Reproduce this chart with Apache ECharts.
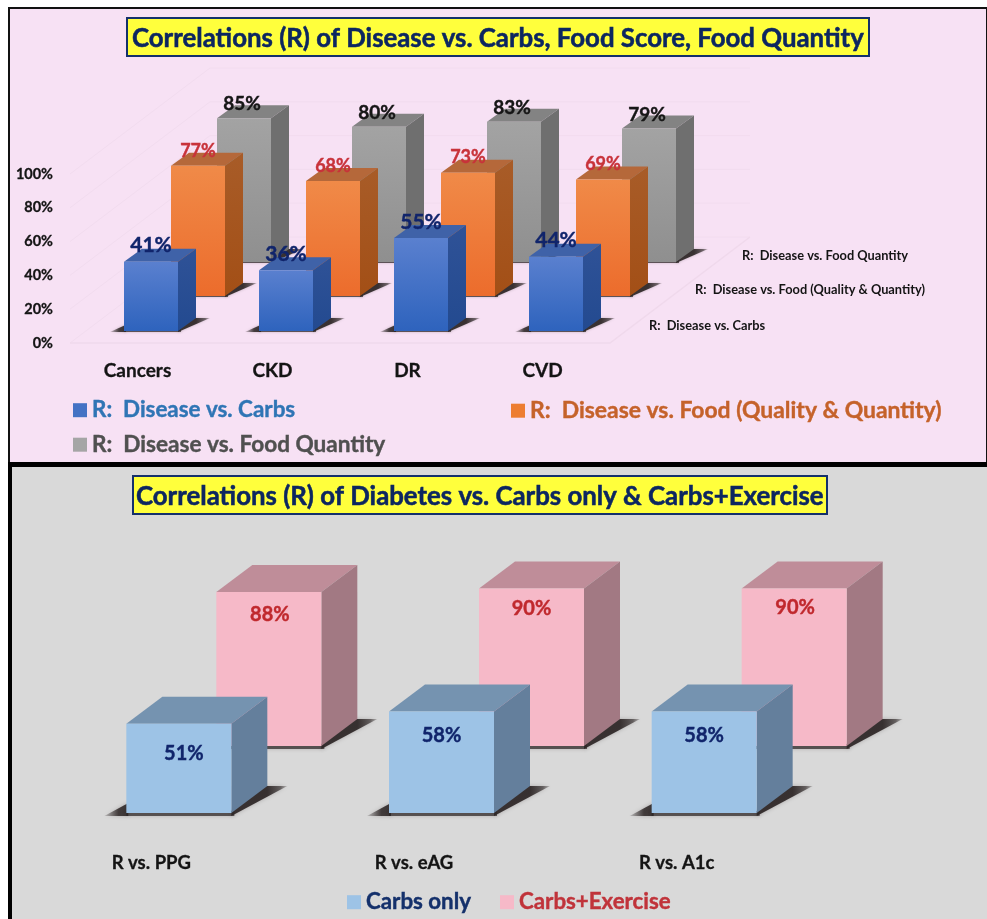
<!DOCTYPE html>
<html>
<head>
<meta charset="utf-8">
<style>html,body{margin:0;padding:0;background:#fff}#chart{width:987px;height:919px}</style>
<script src="https://cdn.jsdelivr.net/npm/echarts@6/dist/echarts.min.js"></script>
</head>
<body>
<div id="chart"></div>
<script>
// Upper panel: disease correlations
const diseaseCategories = ['Cancers', 'CKD', 'DR', 'CVD'];
const carbsR = [41, 36, 55, 44];
const foodQualityR = [77, 68, 73, 69];
const foodQuantityR = [85, 80, 83, 79];
const percentTicks = [0, 20, 40, 60, 80, 100];

// Lower panel: diabetes correlations
const diabetesCategories = ['R vs. PPG', 'R vs. eAG', 'R vs. A1c'];
const carbsOnlyR = [51, 58, 58];
const carbsExerciseR = [88, 90, 90];

const FONT = 'Lato, "Open Sans", sans-serif';
const NAVY = '#0c2660';
const SHADE = a => 'rgba(45,38,38,' + a + ')';

const vGrad = (a, b) => ({ type: 'linear', x: 0, y: 0, x2: 0, y2: 1, colorStops: [{ offset: 0, color: a }, { offset: 1, color: b }] });
// Horizontal fade in canvas pixels, used for the ends of the floor shadow.
const fade = (x, x2, from, to) => ({
  type: 'linear', global: true, x, y: 0, x2, y2: 0,
  colorStops: [{ offset: 0, color: SHADE(from) }, { offset: 0.65, color: SHADE((from + to * 2) / 3 + 0.2) }, { offset: 1, color: SHADE(to) }]
});

// Draws one extruded bar: floor shadow, top, side and front faces, then its value label.
function barRenderer(cfg) {
  return function (params, api) {
    const i = api.value(0), v = api.value(1);
    const top = api.coord([i, v]), base = api.coord([i, 0]);
    const x0 = top[0] + cfg.dx - cfg.width / 2, x1 = x0 + cfg.width;
    const yT = top[1] - cfg.lift, yB = base[1] - cfg.lift;
    const dx = cfg.depthX, dy = cfg.depthY;
    const soft = { shadowBlur: cfg.shadowBlur, shadowColor: SHADE(0.3) };
    const poly = (points, fill, extra) => ({
      type: 'polygon', shape: { points }, silent: true,
      style: Object.assign({ fill }, extra || {})
    });
    const nudge = cfg.labelNudge ? cfg.labelNudge[i] : cfg.labelDefault;
    const yS = yB + cfg.shadowDrop;
    return {
      type: 'group',
      children: [
        // left wedge, strip under the front edge, right wing
        poly([[x0 - cfg.shadowL, yS], [x0 + 2, yS], [x0 + 2, yB - cfg.shadowL * 0.45]],
          fade(x0 - cfg.shadowL, x0, 0.15, 0.9), soft),
        poly([[x0, yS], [x1 + 3, yS], [x1 + 3, yB - 2], [x0, yB - 2]], SHADE(0.72), soft),
        poly([[x1, yS], [x1 + dx + cfg.shadowR, yB - dy], [x1 + dx - 4, yB - dy], [x1, yB - 2]],
          fade(x1 + dx, x1 + dx + cfg.shadowR, 0.92, 0.2), soft),
        poly([[x0, yT], [x0 + dx, yT - dy], [x1 + dx, yT - dy], [x1, yT]], cfg.topFill),
        poly([[x1, yT], [x1 + dx, yT - dy], [x1 + dx, yB - dy], [x1, yB]], cfg.sideFill),
        poly([[x0, yT], [x1, yT], [x1, yB], [x0, yB]], cfg.frontFill),
        {
          type: 'text', silent: true, z2: 10,
          style: {
            x: (x0 + x1) / 2 + nudge[0], y: yT + nudge[1],
            text: v + '%', align: 'center', verticalAlign: 'middle',
            font: 'bold ' + cfg.labelSize + 'px ' + FONT, fill: cfg.labelColor,
            stroke: cfg.labelColor, lineWidth: 0.4
          }
        }
      ]
    };
  };
}

// Floor and back-wall rules of the upper plot.
function wallRenderer(params, api) {
  const tick = api.value(0);
  const p = api.coord([0, tick]);
  const right = api.coord([3, tick])[0] + 67.5;
  const backX = 140, backY = 106;
  const left = p[0] - 67.5;
  const pts = [[left, p[1]], [left + backX, p[1] - backY], [right + backX, p[1] - backY]];
  const children = [{
    type: 'polyline', shape: { points: pts }, silent: true,
    style: { fill: null, stroke: '#f2dcef', lineWidth: 1 }
  }];
  if (tick === 0) {
    children.push({
      type: 'polyline', shape: { points: [[left, p[1]], [right, p[1]], [right + backX, p[1] - backY]] }, silent: true,
      style: { fill: null, stroke: '#f0d9ec', lineWidth: 1.5 }
    });
  }
  return { type: 'group', children };
}

const upperBase = { width: 54, depthX: 18, depthY: 13, shadowL: 14, shadowR: 14, shadowDrop: 1, shadowBlur: 3 };
const lowerBase = { width: 105, depthX: 36, depthY: 27, shadowL: 22, shadowR: 20, shadowDrop: 3, shadowBlur: 4 };

const grayBar = Object.assign({}, upperBase, {
  dx: 106.5, lift: 81, labelSize: 19, labelColor: '#161616', labelDefault: [-2, -14],
  frontFill: vGrad('#a3a3a3', '#8f8f8f'), sideFill: '#6f6f6f', topFill: '#838383'
});
const orangeBar = Object.assign({}, upperBase, {
  dx: 60.5, lift: 47, labelSize: 18, labelColor: '#c8323a', labelDefault: [0, -15],
  frontFill: vGrad('#f08a48', '#ec6c2c'), sideFill: vGrad('#a85c28', '#a34f16'), topFill: '#b5683a'
});
const blueBar = Object.assign({}, upperBase, {
  dx: 13.5, lift: 12, labelSize: 21, labelColor: '#10246b', labelDefault: [0, -16],
  frontFill: vGrad('#5a80cf', '#2e63bd'), sideFill: vGrad('#2f5297', '#234a90'), topFill: '#3f62a8'
});
const pinkBar = Object.assign({}, lowerBase, {
  dx: 117.5, lift: 79, labelSize: 20, labelColor: '#c0282d', labelNudge: [[1, 23], [0, 20], [1, 19]],
  frontFill: '#f6b9c8', sideFill: '#a27983', topFill: '#bf8d99'
});
const skyBar = Object.assign({}, lowerBase, {
  dx: 27.5, lift: 12, labelSize: 20, labelColor: '#10246b', labelNudge: [[5, 30], [0, 24], [0, 24]],
  frontFill: '#9dc3e6', sideFill: '#647f9c', topFill: '#7593b0'
});

const points = arr => arr.map((v, i) => [i, v]);
const barSeries = (name, values, cfg, gridIndex, legendColor) => ({
  type: 'custom', name, xAxisIndex: gridIndex, yAxisIndex: gridIndex,
  renderItem: barRenderer(cfg), clip: false, animation: false,
  encode: { x: 0, y: 1 }, data: points(values),
  itemStyle: { color: legendColor }
});
const legendItem = (name, left, top, color, fontSize) => ({
  data: [name], left, top, padding: 0, icon: 'rect', itemWidth: 14, itemHeight: 14, selectedMode: false,
  textStyle: { color, fontFamily: FONT, fontWeight: 'bold', fontSize, textBorderColor: color, textBorderWidth: 0.4 }
});
const titleBox = (text, left, top, size, pad) => ({
  text, left, top,
  textStyle: { color: NAVY, fontFamily: FONT, fontWeight: 'bold', fontSize: size, lineHeight: size + 5, textBorderColor: NAVY, textBorderWidth: 0.5 },
  backgroundColor: '#ffff3c', borderColor: '#14306b', borderWidth: 2, padding: [5, pad, 2, pad]
});
const depthLabel = (text, left, top) => ({
  type: 'text', left, top, silent: true, z: 5,
  style: { text, font: 'bold 12.8px ' + FONT, fill: '#141414' }
});
const axisFont = (size, margin) => ({
  color: '#141414', fontFamily: FONT, fontWeight: 'bold', fontSize: size, margin,
  textBorderColor: '#141414', textBorderWidth: 0.3
});

const option = {
  animation: false,
  backgroundColor: '#ffffff',
  title: [
    titleBox('Correlations (R) of Disease vs. Carbs, Food Score, Food Quantity', 127, 18, 25.8, 5),
    titleBox('Correlations (R) of Diabetes vs. Carbs only & Carbs+Exercise', 133, 476, 25.8, 3)
  ],
  legend: [
    legendItem('R:  Disease vs. Carbs', 73, 399, '#2f75b5', 22.4),
    legendItem('R:  Disease vs. Food (Quality & Quantity)', 511, 399, '#c5622a', 22.9),
    legendItem('R:  Disease vs. Food Quantity', 73, 433, '#505050', 22.6),
    legendItem('Carbs only', 347, 891, '#14306b', 22.3),
    legendItem('Carbs+Exercise', 500, 891, '#c0333a', 22.3)
  ],
  grid: [
    { left: 70, width: 540, top: 174, height: 169 },
    { left: 20, width: 788, top: 650, height: 175 }
  ],
  xAxis: [
    {
      type: 'category', gridIndex: 0, data: diseaseCategories,
      axisLine: { show: false }, axisTick: { show: false },
      axisLabel: axisFont(19, 18)
    },
    {
      type: 'category', gridIndex: 1, data: diabetesCategories,
      axisLine: { show: false }, axisTick: { show: false },
      axisLabel: axisFont(18.5, 29)
    }
  ],
  yAxis: [
    {
      type: 'value', gridIndex: 0, min: 0, max: 100, interval: 20,
      splitLine: { show: false }, axisLine: { show: false }, axisTick: { show: false },
      axisLabel: Object.assign(axisFont(14.5, 17), { formatter: '{value}%' })
    },
    { type: 'value', gridIndex: 1, min: 0, max: 100, show: false }
  ],
  graphic: [
    // Panel backgrounds and their black rules
    { type: 'rect', z: -10, silent: true, shape: { x: 9, y: 8, width: 978, height: 455 }, style: { fill: '#f7e1f4', stroke: '#111111', lineWidth: 2 } },
    { type: 'rect', z: -10, silent: true, shape: { x: 10, y: 466, width: 977, height: 453 }, style: { fill: '#d9d9d9' } },
    { type: 'rect', z: -9, silent: true, shape: { x: 8, y: 462, width: 979, height: 5 }, style: { fill: '#000000' } },
    { type: 'rect', z: -9, silent: true, shape: { x: 8, y: 462, width: 4, height: 457 }, style: { fill: '#000000' } },
    depthLabel('R:  Disease vs. Food Quantity', 742, 249),
    depthLabel('R:  Disease vs. Food (Quality & Quantity)', 695, 283),
    depthLabel('R:  Disease vs. Carbs', 649, 319)
  ],
  series: [
    {
      type: 'custom', xAxisIndex: 0, yAxisIndex: 0, renderItem: wallRenderer, clip: false, silent: true,
      encode: { y: 0 }, data: percentTicks.map(t => [t]), animation: false
    },
    barSeries('R:  Disease vs. Food Quantity', foodQuantityR, grayBar, 0, '#a5a5a5'),
    barSeries('R:  Disease vs. Food (Quality & Quantity)', foodQualityR, orangeBar, 0, '#ed7d31'),
    barSeries('R:  Disease vs. Carbs', carbsR, blueBar, 0, '#4472c4'),
    barSeries('Carbs+Exercise', carbsExerciseR, pinkBar, 1, '#f6b9c8'),
    barSeries('Carbs only', carbsOnlyR, skyBar, 1, '#9dc3e6')
  ]
};

const chart = echarts.init(document.getElementById('chart'), null, { renderer: 'canvas' });
chart.setOption(option);
</script>
</body>
</html>
